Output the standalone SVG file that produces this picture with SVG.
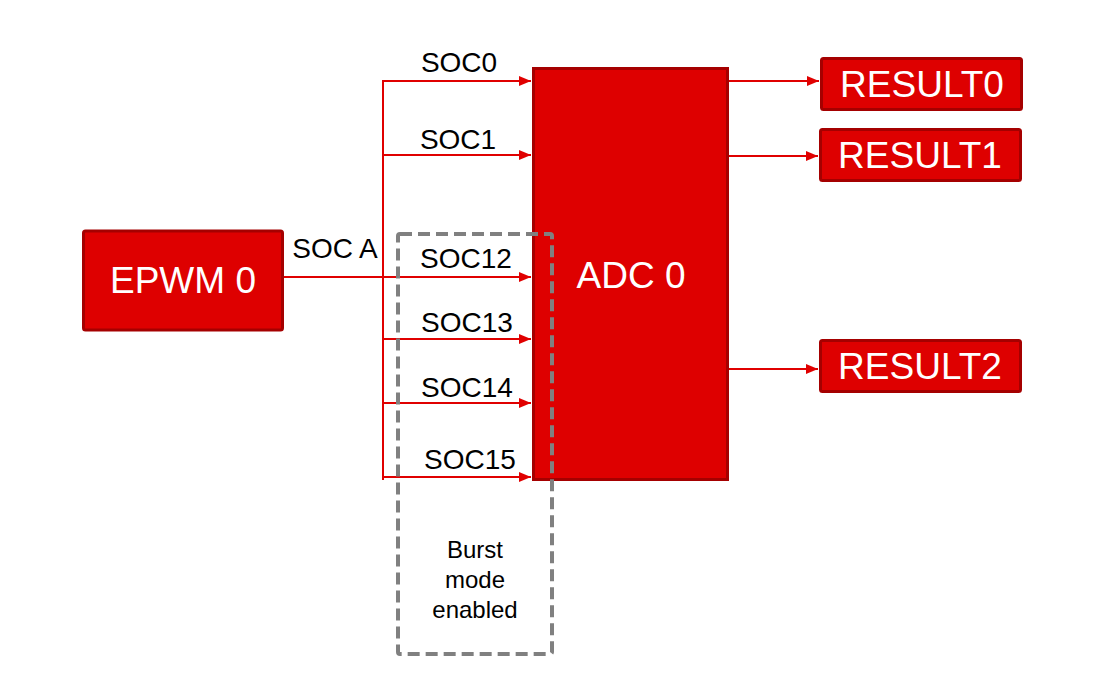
<svg xmlns="http://www.w3.org/2000/svg" width="1107" height="686" viewBox="0 0 1107 686">
<style>
.box{fill:#DE0000;stroke:#A50000;stroke-width:3}
.wt{fill:#FFFFFF;font-family:"Liberation Sans",Arial,sans-serif;text-anchor:middle;font-size:37px}
.lbl{fill:#000000;font-family:"Liberation Sans",Arial,sans-serif;font-size:28px;text-anchor:middle}
.bt{fill:#000000;font-family:"Liberation Sans",Arial,sans-serif;font-size:24px;text-anchor:middle}
.ln{stroke:#E00000;stroke-width:2;fill:none}
.dash{fill:none;stroke:#808080;stroke-width:4;stroke-dasharray:12 6}
</style>
<defs>
<marker id="ah" markerUnits="userSpaceOnUse" markerWidth="14" markerHeight="12" refX="12" refY="5" orient="auto">
<path d="M0,0 L12,5 L0,10 z" fill="#E00000"/>
</marker>
</defs>
<rect width="1107" height="686" fill="#FFFFFF"/>
<g id="connectors">
<line class="ln" x1="383" y1="80" x2="383" y2="480"/>
<line class="ln" x1="284" y1="277" x2="531" y2="277" marker-end="url(#ah)"/>
<line class="ln" x1="383" y1="81" x2="531" y2="81" marker-end="url(#ah)"/>
<line class="ln" x1="383" y1="155" x2="531" y2="155" marker-end="url(#ah)"/>
<line class="ln" x1="383" y1="339" x2="531" y2="339" marker-end="url(#ah)"/>
<line class="ln" x1="383" y1="403" x2="531" y2="403" marker-end="url(#ah)"/>
<line class="ln" x1="383" y1="477" x2="531" y2="477" marker-end="url(#ah)"/>
<line class="ln" x1="728" y1="81" x2="819" y2="81" marker-end="url(#ah)"/>
<line class="ln" x1="728" y1="156" x2="818" y2="156" marker-end="url(#ah)"/>
<line class="ln" x1="728" y1="369" x2="818" y2="369" marker-end="url(#ah)"/>
<text class="lbl" x="335" y="258">SOC A</text>
<text class="lbl" x="459" y="72">SOC0</text>
<text class="lbl" x="458" y="149">SOC1</text>
<text class="lbl" x="466" y="268">SOC12</text>
<text class="lbl" x="467" y="332">SOC13</text>
<text class="lbl" x="467" y="397">SOC14</text>
<text class="lbl" x="470" y="469">SOC15</text>
</g>
<g id="epwm0">
<rect class="box" x="83.5" y="231" width="199" height="99" rx="2"/>
<text class="wt" x="183" y="293">EPWM 0</text>
</g>
<g id="adc0">
<rect class="box" x="533.5" y="68.5" width="194" height="411"/>
<text class="wt" x="631" y="288">ADC 0</text>
</g>
<g id="result0">
<rect class="box" x="821.5" y="58.5" width="200" height="51" rx="2"/>
<text class="wt" x="922" y="97">RESULT0</text>
</g>
<g id="result1">
<rect class="box" x="820.5" y="129.5" width="200" height="51" rx="2"/>
<text class="wt" x="920" y="168">RESULT1</text>
</g>
<g id="result2">
<rect class="box" x="820.5" y="340.5" width="200" height="51" rx="2"/>
<text class="wt" x="920" y="379">RESULT2</text>
</g>
<g id="burst">
<rect class="dash" x="398" y="234" width="154" height="420" rx="2"/>
<text class="bt" x="475" y="558">Burst</text>
<text class="bt" x="475" y="588">mode</text>
<text class="bt" x="475" y="618">enabled</text>
</g>
</svg>
